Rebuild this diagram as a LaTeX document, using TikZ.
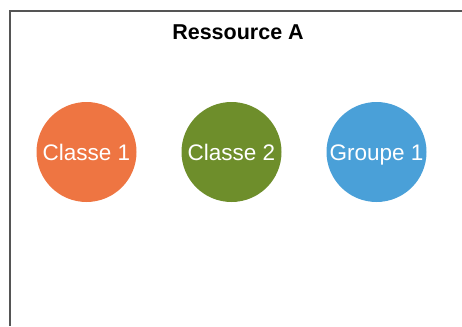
\documentclass[tikz,border=0pt]{standalone}
\usepackage{fontspec}
\setmainfont{Liberation Sans}
\usepackage{tikz}

\definecolor{orangeA}{RGB}{238,117,66}
\definecolor{greenA}{RGB}{110,142,43}
\definecolor{blueA}{RGB}{74,160,216}
\definecolor{frameA}{RGB}{85,85,85}

\tikzset{
  ress/.style={circle, fill=#1, minimum size=100pt, inner sep=0pt, text=white,
    text height=16.5pt, text depth=0pt, font=\fontsize{22.5}{26}\selectfont},
  titre/.style={font=\bfseries\fontsize{21.5}{25}\selectfont}
}

\begin{document}
\begin{tikzpicture}[x=1pt, y=-1pt]
        \useasboundingbox (0,0) rectangle (462,326);

        % Frame
        \coordinate (tr) at (462,11);
        \coordinate (tl) at (10,11);
        \coordinate (bl) at (10,326);
        \draw[frameA, line width=2pt] (tr) -- (tl) -- (bl);

        % Title
        \node[titre] (titre) at (238,32.5) {Ressource A};

        % Nodes
        \node[ress=orangeA] (c1) at (86.5,152) {Classe 1};
        \node[ress=greenA] (c2) at (231.5,152) {Classe 2};
        \node[ress=blueA] (g1) at (376.5,152) {Groupe 1};

\end{tikzpicture}
\end{document}
